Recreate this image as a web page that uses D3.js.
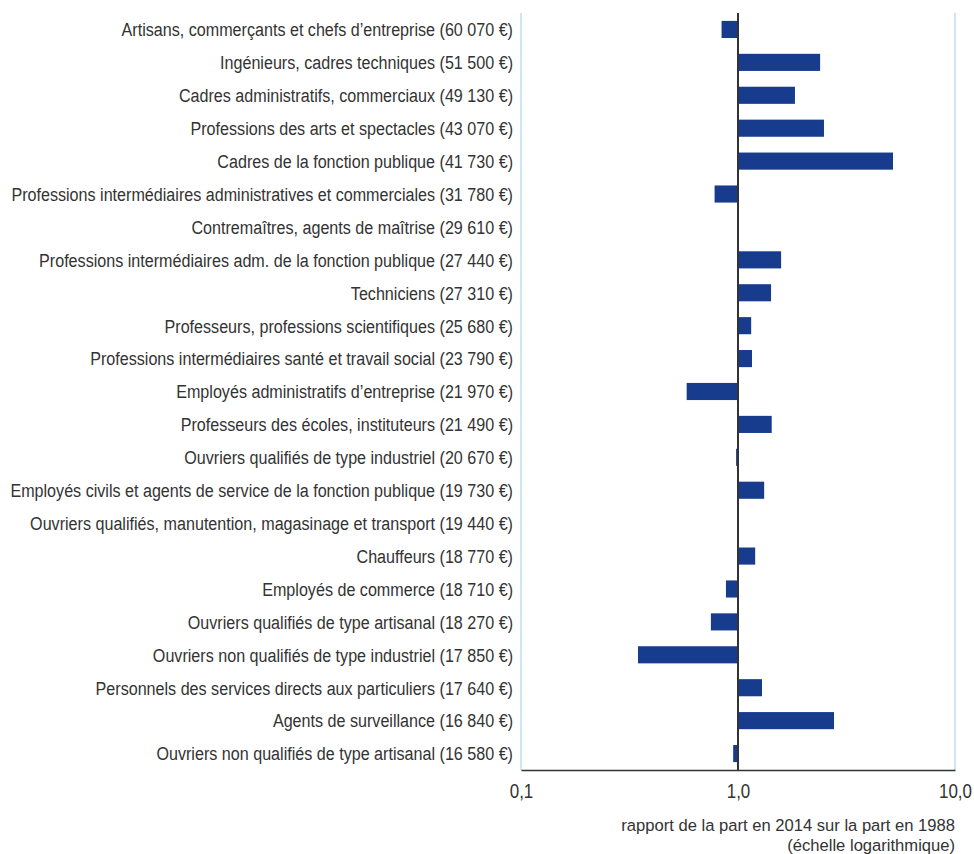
<!DOCTYPE html>
<html><head><meta charset="utf-8">
<script src="https://cdn.jsdelivr.net/npm/d3@7/dist/d3.min.js"></script>
<style>body{margin:0;background:#fff}svg{display:block}</style>
</head><body>
<script>
const categories = [
 "Artisans, commerçants et chefs d’entreprise (60 070 €)",
 "Ingénieurs, cadres techniques (51 500 €)",
 "Cadres administratifs, commerciaux (49 130 €)",
 "Professions des arts et spectacles (43 070 €)",
 "Cadres de la fonction publique (41 730 €)",
 "Professions intermédiaires administratives et commerciales (31 780 €)",
 "Contremaîtres, agents de maîtrise (29 610 €)",
 "Professions intermédiaires adm. de la fonction publique (27 440 €)",
 "Techniciens (27 310 €)",
 "Professeurs, professions scientifiques (25 680 €)",
 "Professions intermédiaires santé et travail social (23 790 €)",
 "Employés administratifs d’entreprise (21 970 €)",
 "Professeurs des écoles, instituteurs (21 490 €)",
 "Ouvriers qualifiés de type industriel (20 670 €)",
 "Employés civils et agents de service de la fonction publique (19 730 €)",
 "Ouvriers qualifiés, manutention, magasinage et transport (19 440 €)",
 "Chauffeurs (18 770 €)",
 "Employés de commerce (18 710 €)",
 "Ouvriers qualifiés de type artisanal (18 270 €)",
 "Ouvriers non qualifiés de type industriel (17 850 €)",
 "Personnels des services directs aux particuliers (17 640 €)",
 "Agents de surveillance (16 840 €)",
 "Ouvriers non qualifiés de type artisanal (16 580 €)"
];
const ratios = [0.84, 2.39, 1.83, 2.49, 5.18, 0.78, 1.0, 1.58, 1.42, 1.15, 1.16, 0.58, 1.43, 0.98, 1.32, 1.0, 1.20, 0.88, 0.75, 0.346, 1.29, 2.77, 0.95];
const tickValues = [0.1, 1, 10];
const tickLabels = ["0,1", "1,0", "10,0"];
const axisTitle = ["rapport de la part en 2014 sur la part en 1988", "(échelle logarithmique)"];

const W = 974, H = 854;
const FONT = "'Liberation Sans',Arial,sans-serif";
const FS = 19;
const svg = d3.select("body").append("svg").attr("width", W).attr("height", H);

const x = d3.scaleLog().domain([0.1, 10]).range([521, 955]);
const y = d3.scaleBand().domain(categories).range([13, 770]).paddingInner(0.48).paddingOuter(0.24);

// light blue bounding verticals
svg.selectAll("line.vb").data([0.1, 10]).enter().append("line")
  .attr("x1", d => x(d)).attr("x2", d => x(d)).attr("y1", 13).attr("y2", 770)
  .attr("stroke", "#a9d5f0").attr("stroke-width", 1.2);

// bars
svg.selectAll("rect.bar").data(ratios).enter().append("rect")
  .attr("x", d => Math.min(x(d), x(1)))
  .attr("width", d => Math.abs(x(d) - x(1)))
  .attr("y", (d, i) => y(categories[i]))
  .attr("height", y.bandwidth())
  .attr("fill", "#173b8d");

// ratio = 1 line
svg.append("line").attr("x1", x(1)).attr("x2", x(1)).attr("y1", 13).attr("y2", 770)
  .attr("stroke", "#333").attr("stroke-width", 2);

// category labels (condensed horizontally to mimic the narrow typeface)
const lbl = svg.selectAll("text.cat").data(categories).enter().append("text")
  .attr("class", "cat")
  .attr("dy", "0.36em")
  .attr("text-anchor", "end")
  .attr("font-family", FONT).attr("font-size", FS).attr("fill", "#333")
  .text(d => d);
let maxW = 0; lbl.each(function(){ maxW = Math.max(maxW, this.getComputedTextLength()); });
const sx = 503 / maxW;
lbl.attr("transform", d => `translate(513,${y(d) + y.bandwidth() / 2}) scale(${sx},1)`);

// x axis
const xAxis = d3.axisBottom(x).tickValues(tickValues).tickSize(0)
  .tickFormat(d => tickLabels[tickValues.indexOf(d)]);
const ax = svg.append("g").attr("transform", "translate(0,770)").call(xAxis);
ax.select(".domain").attr("stroke", "#333").attr("stroke-width", 1.6);
ax.selectAll(".tick text").attr("font-family", FONT).attr("font-size", 20).attr("fill", "#333")
  .attr("dy", 0).attr("y", 0)
  .attr("transform", `translate(0,28) scale(${sx},1)`);

const at = svg.selectAll("text.at").data(axisTitle).enter().append("text")
  .attr("class", "at")
  .attr("text-anchor", "end").attr("font-family", FONT).attr("font-size", 17).attr("fill", "#333")
  .text(d => d);
const w0 = at.nodes()[0].getComputedTextLength();
const sxt = 334 / w0;
at.attr("transform", (d, i) => `translate(955,${831 + i * 20}) scale(${sxt},1)`);
</script>
</body></html>
